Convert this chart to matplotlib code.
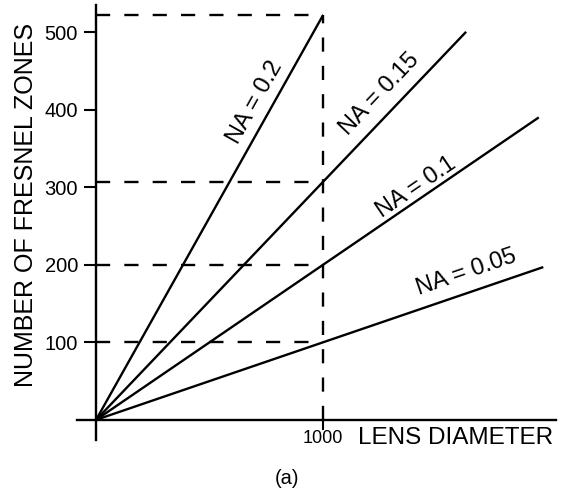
import matplotlib
matplotlib.use("Agg")
import matplotlib.pyplot as plt
import numpy as np

plt.rcParams['font.family'] = ['Liberation Sans', 'DejaVu Sans']

# Data
na_labels = ["NA = 0.2", "NA = 0.15", "NA = 0.1", "NA = 0.05"]
zones_at_1000 = [522, 307, 200, 100]          # number of zones at diameter 1000
line_end_diameter = [1000, 1630, 1950, 1970]  # where each line stops
ref_diameter = 1000
y_ticks = [100, 200, 300, 400, 500]
x_ticks = [1000]
label_pos_x = [700, 1251, 1410, 1630]
label_pos_y = [410, 420, 300, 190]

W, H = 571, 499
fig = plt.figure(figsize=(W / 100, H / 100), dpi=100)
ax = fig.add_axes([77 / W, (H - 440) / H, (556 - 77) / W, (440 - 5) / H])
ax.set_xlim(-84, 2026)
ax.set_ylim(-26, 535)

for s in ['top', 'right']:
    ax.spines[s].set_visible(False)
ax.spines['left'].set_position(('data', 0))
ax.spines['bottom'].set_position(('data', 0))
for s in ['left', 'bottom']:
    ax.spines[s].set_linewidth(1.7)

ax.set_yticks(y_ticks)
ax.set_yticklabels([str(v) for v in y_ticks], fontsize=14.5)
ax.set_xticks(x_ticks)
ax.set_xticklabels([str(v) for v in x_ticks], fontsize=13)
ax.tick_params(axis='y', direction='out', length=9, width=1.5, pad=4)
ax.tick_params(axis='x', direction='out', length=7, width=1.5, pad=0)

lw = 1.7
dash = (0, (6, 6))
# dashed reference lines
for v in zones_at_1000:
    ax.plot([0, ref_diameter], [v, v], color='black', lw=lw, linestyle=dash)
ax.plot([ref_diameter, ref_diameter], [0, max(zones_at_1000)], color='black', lw=lw, linestyle=dash)

# NA lines
fig.canvas.draw()
for lab, z, xe, lx, ly in zip(na_labels, zones_at_1000, line_end_diameter, label_pos_x, label_pos_y):
    slope = z / ref_diameter
    ax.plot([0, xe], [0, slope * xe], color='black', lw=lw, solid_capstyle='butt')
    p0 = ax.transData.transform((0, 0))
    p1 = ax.transData.transform((xe, slope * xe))
    ang = np.degrees(np.arctan2(p1[1] - p0[1], p1[0] - p0[0]))
    ax.text(lx, ly, lab, rotation=ang, rotation_mode='anchor', ha='center', va='center', fontsize=17)

fig.text(553 / W, 1 - 444 / H, "LENS DIAMETER", ha='right', va='baseline', fontsize=17.5)
fig.text(26 / W, 1 - 205 / H, "NUMBER OF FRESNEL ZONES", rotation=90, ha='center', va='center', fontsize=18)
fig.text(287 / W, 1 - 478 / H, "(a)", ha='center', va='center', fontsize=14.5)

fig.savefig("out.png", dpi=100)
